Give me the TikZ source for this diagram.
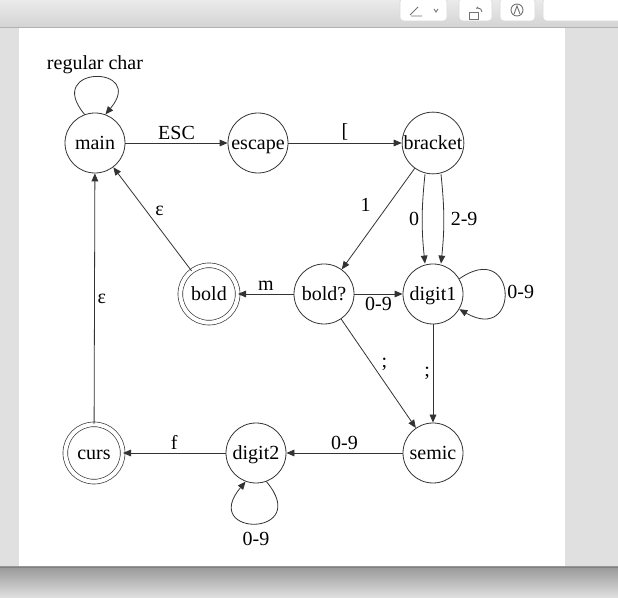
\documentclass[tikz,border=0pt]{standalone}
\usepackage{fontspec}
\setmainfont{Liberation Serif}
\usetikzlibrary{arrows.meta,positioning}
\definecolor{chrome}{HTML}{DCDCDC}
\definecolor{strip}{HTML}{E0E0E0}
\definecolor{ink}{HTML}{333333}
\tikzset{
  stnode/.style={circle, draw=ink, line width=0.6pt, minimum size=45pt, inner sep=0pt,
    text height=12pt, text depth=2.2pt, font=\fontsize{15}{16}\selectfont},
  accnode/.style={stnode, minimum size=43pt, double=white, double distance=3pt, line width=0.5pt},
  trans/.style={-{Triangle[length=6pt,width=5pt]}, draw=ink, line width=0.6pt},
  lbl/.style={font=\fontsize{15}{16}\selectfont, inner sep=2pt},
  btn/.style={draw=black!15, fill=white, rounded corners=3pt},
  icon/.style={draw=black!55, line width=0.7pt}
}
\begin{document}
\begin{tikzpicture}[x=0.75pt,y=0.75pt]
  \useasboundingbox (0,0) rectangle (618,-598);
  % window chrome
  \fill[strip] (0,0) rectangle (618,-598);
  \shade[top color=black!8, bottom color=black!17] (0,0) rectangle (618,-27);
  \draw[black!30] (0,-27) -- (618,-27);
  \fill[white] (19,-28) rectangle (565,-567);
  \shade[top color=black!40, bottom color=black!12] (0,-567) rectangle (618,-598);
  \draw[black!50] (0,-567) -- (618,-567);
  \draw[btn] (400,2) rectangle (447,-21);
  \draw[btn] (459,2) rectangle (492,-21);
  \draw[btn] (500,2) rectangle (535,-21);
  \draw[btn] (543,2) rectangle (625,-21);
  \draw[icon] (410,-15) -- (418,-7) (411,-16) -- (422,-16);
  \draw[icon] (434,-9) -- (436,-12) -- (438,-9);
  \draw[icon] (469,-12) rectangle (478,-19);
  \draw[icon,-{Stealth[length=2pt]}] (482,-12) arc (0:120:4);
  \draw[icon] (517,-10) circle (6);
  \draw[icon] (514,-14) -- (517,-6) -- (520,-14);

  % states
  \node[stnode] (main) at (95,-143) {main};
  \node[stnode] (escape) at (258,-143) {escape};
  \node[stnode] (bracket) at (433,-143) {bracket};
  \node[accnode] (bold) at (209,-294) {bold};
  \node[stnode] (boldq) at (324,-294) {bold?};
  \node[stnode] (digit1) at (433,-294) {digit1};
  \node[stnode] (semic) at (433,-453) {semic};
  \node[stnode] (digit2) at (256,-453) {digit2};
  \node[accnode] (curs) at (94,-453) {curs};

  % transitions
  \draw[trans] (main.110) to[out=130,in=50,looseness=8] node[lbl,above] {regular char} (main.70);
  \draw[trans] (main) -- node[lbl,above] {ESC} (escape);
  \draw[trans] (escape) -- node[lbl,above] {[} (bracket);
  \draw[trans] (bracket) -- node[lbl,pos=0.36,left=11pt] {1} (boldq);
  \draw[trans] ([xshift=-6pt]bracket.south) to[bend right=6] node[lbl,left] {0} ([xshift=-6pt]digit1.north);
  \draw[trans] ([xshift=6pt]bracket.south) to[bend left=6] node[lbl,right=3pt] {2-9} ([xshift=6pt]digit1.north);
  \draw[trans] (digit1.30) to[out=35,in=-30,looseness=6] node[lbl,right] {0-9} (digit1.-30);
  \draw[trans] (boldq) -- node[lbl,above] {m} (bold);
  \draw[trans] (boldq) -- node[lbl,below] {0-9} (digit1);
  \draw[trans] (bold) -- node[lbl,above right] {ε} (main);
  \draw[trans] (boldq) -- node[lbl,above right] {;} (semic);
  \draw[trans] (digit1) -- node[lbl,left] {;} (semic);
  \draw[trans] (semic) -- node[lbl,above] {0-9} (digit2);
  \draw[trans] (digit2) -- node[lbl,above] {f} (curs);
  \draw[trans] (digit2.-70) to[out=-50,in=-130,looseness=9] node[lbl,below=4pt] {0-9} (digit2.-110);
  \draw[trans] (curs) -- node[lbl,right] {ε} (main);
\end{tikzpicture}
\end{document}
